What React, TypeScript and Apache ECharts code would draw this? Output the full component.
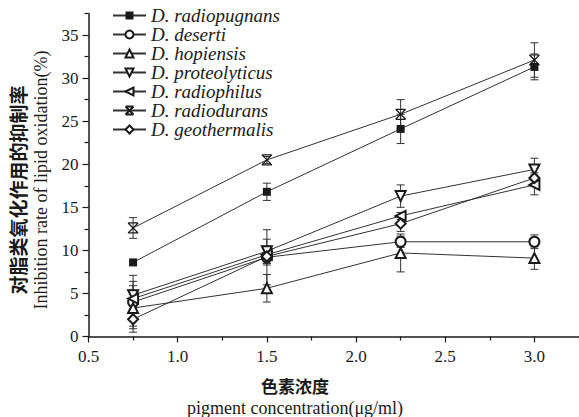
import React, { useEffect, useRef } from "react";
import * as echarts from "echarts";

const xValues = [0.75, 1.5, 2.25, 3.0];
const seriesNames = [
  "D. radiopugnans",
  "D. deserti",
  "D. hopiensis",
  "D. proteolyticus",
  "D. radiophilus",
  "D. radiodurans",
  "D. geothermalis",
];
const radiopugnans = [8.6, 16.8, 24.1, 31.3];
const deserti = [4.0, 9.2, 11.0, 11.0];
const hopiensis = [3.3, 5.6, 9.7, 9.1];
const proteolyticus = [4.8, 9.9, 16.3, 19.4];
const radiophilus = [4.4, 9.5, 14.0, 17.6];
const radiodurans = [12.6, 20.5, 25.8, 32.1];
const geothermalis = [2.0, 9.3, 13.1, 18.4];

const errRadiopugnans = [0.3, 1.0, 1.7, 1.5];
const errDeserti = [3.1, 3.2, 0.65, 0.8];
const errHopiensis = [2.1, 1.6, 2.2, 1.3];
const errProteolyticus = [1.6, 1.4, 1.3, 1.3];
const errRadiophilus = [1.5, 1.0, 0.4, 1.15];
const errRadiodurans = [1.2, 0.4, 1.7, 2.0];
const errGeothermalis = [1.5, 1.0, 0.9, 0.6];

const yMajor = [0, 5, 10, 15, 20, 25, 30, 35];
const yMinor = [2.5, 7.5, 12.5, 17.5, 22.5, 27.5, 32.5, 37.5];
const xMajor = [0.5, 1.0, 1.5, 2.0, 2.5, 3.0];
const xMinor = [0.75, 1.25, 1.75, 2.25, 2.75, 3.25];

const xTitleCn = "色素浓度";
const xTitleEn = "pigment concentration(μg/ml)";
const yTitleCn = "对脂类氧化作用的抑制率";
const yTitleEn = "Inhibition rate of lipid oxidation(%)";

const allValues = [radiopugnans, deserti, hopiensis, proteolyticus, radiophilus, radiodurans, geothermalis];
const allErrors = [errRadiopugnans, errDeserti, errHopiensis, errProteolyticus, errRadiophilus, errRadiodurans, errGeothermalis];

const X_PATH = "path://M0,0L10,10M10,0L0,10M0,0L10,0M0,10L10,10";
const symbols = ["rect", "emptyCircle", "emptyTriangle", "emptyTriangle", "emptyTriangle", X_PATH, "emptyDiamond"];
const rotates = [0, 0, 0, 180, 90, 0, 0];

const INK = "#1a1a1a";
const SERIF = "'Liberation Serif', 'Times New Roman', serif";
const CJK = "'Noto Sans CJK SC', sans-serif";

export default function App() {
  const ref = useRef<HTMLDivElement>(null);
  useEffect(() => {
    if (!ref.current) return;
    const chart = echarts.init(ref.current, null, { renderer: "svg" });
    const lineSeries: any[] = allValues.map((vals, i) => ({
      type: "line",
      name: seriesNames[i],
      xAxisIndex: 0,
      yAxisIndex: 0,
      data: xValues.map((x, j) => [x, vals[j]]),
      symbol: symbols[i],
      symbolRotate: rotates[i],
      symbolSize: i === 0 ? 8 : 10,
      showAllSymbol: true,
      lineStyle: { color: "#333", width: 1 },
      itemStyle: i === 5
        ? { color: INK, borderColor: INK, borderWidth: 1.2 }
        : { color: INK },
      z: 3,
    }));
    const errSeries: any[] = allValues.map((vals, i) => ({
      type: "custom",
      xAxisIndex: 0,
      yAxisIndex: 0,
      z: 2,
      silent: true,
      data: xValues.map((x, j) => [x, vals[j] - allErrors[i][j], vals[j] + allErrors[i][j]]),
      renderItem: (params: any, api: any) => {
        const x = api.value(0);
        const lo = api.coord([x, api.value(1)]);
        const hi = api.coord([x, api.value(2)]);
        const w = 4;
        const style = { stroke: "#333", lineWidth: 1 };
        return {
          type: "group",
          children: [
            { type: "line", shape: { x1: lo[0], y1: lo[1], x2: hi[0], y2: hi[1] }, style },
            { type: "line", shape: { x1: lo[0] - w, y1: lo[1], x2: lo[0] + w, y2: lo[1] }, style },
            { type: "line", shape: { x1: hi[0] - w, y1: hi[1], x2: hi[0] + w, y2: hi[1] }, style },
          ],
        };
      },
    }));
    chart.setOption({
      animation: false,
      backgroundColor: "#fff",
      grid: { left: 88.5, right: 0, top: 13.5, bottom: 80.5, containLabel: false },
      legend: {
        data: seriesNames,
        orient: "vertical",
        left: 112,
        top: 6,
        padding: 0,
        itemWidth: 33,
        itemHeight: 10,
        itemGap: 0,
        textStyle: { fontFamily: SERIF, fontStyle: "italic", fontSize: 19, lineHeight: 16, color: INK },
      },
      xAxis: [
        {
          type: "value",
          min: 0.5,
          max: 3.25,
          position: "bottom",
          splitLine: { show: false },
          axisLine: { lineStyle: { color: INK, width: 1.5 } },
          axisTick: { customValues: xMajor, length: 6, lineStyle: { color: INK, width: 1.2 } },
          axisLabel: {
            customValues: xMajor,
            formatter: (v: number) => v.toFixed(1),
            fontFamily: SERIF,
            fontSize: 17,
            color: INK,
            margin: 11,
          },
        },
        {
          type: "value",
          min: 0.5,
          max: 3.25,
          position: "bottom",
          splitLine: { show: false },
          axisLine: { show: false },
          axisTick: { customValues: xMinor, length: 4, lineStyle: { color: INK, width: 1.2 } },
          axisLabel: { show: false },
        },
      ],
      yAxis: [
        {
          type: "value",
          min: 0,
          max: 37.5,
          position: "left",
          splitLine: { show: false },
          axisLine: { show: true, lineStyle: { color: INK, width: 1.5 } },
          axisTick: { show: true, customValues: yMajor, length: 6, lineStyle: { color: INK, width: 1.2 } },
          axisLabel: {
            customValues: yMajor,
            fontFamily: SERIF,
            fontSize: 17,
            color: INK,
            margin: 10,
          },
        },
        {
          type: "value",
          min: 0,
          max: 37.5,
          position: "left",
          splitLine: { show: false },
          axisLine: { show: false },
          axisTick: { show: true, customValues: yMinor, length: 4, lineStyle: { color: INK, width: 1.2 } },
          axisLabel: { show: false },
        },
      ],
      graphic: [
        {
          type: "text",
          x: 295,
          y: 385,
          style: { text: xTitleCn, font: `bold 17px ${CJK}`, fill: INK, align: "center", verticalAlign: "middle" },
        },
        {
          type: "text",
          x: 295,
          y: 408,
          style: { text: xTitleEn, font: `18px ${SERIF}`, fill: INK, align: "center", verticalAlign: "middle" },
        },
        {
          type: "text",
          x: 17,
          y: 190,
          rotation: Math.PI / 2,
          style: { text: yTitleCn, font: `bold 19px ${CJK}`, fill: INK, align: "center", verticalAlign: "middle" },
        },
        {
          type: "text",
          x: 41,
          y: 180,
          rotation: Math.PI / 2,
          style: { text: yTitleEn, font: `18px ${SERIF}`, fill: INK, align: "center", verticalAlign: "middle" },
        },
      ],
      series: [...errSeries, ...lineSeries],
    });
    return () => chart.dispose();
  }, []);
  return <div ref={ref} style={{ position: "absolute", left: 0, top: 0, width: 579, height: 417 }} />;
}
